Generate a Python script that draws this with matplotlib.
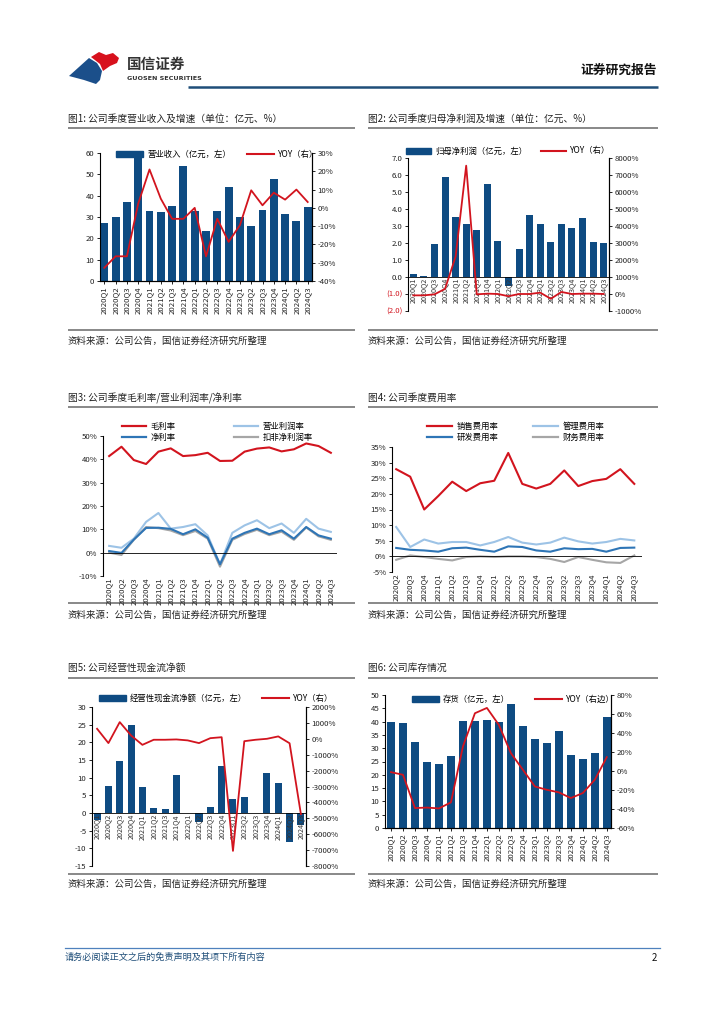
import matplotlib
matplotlib.use('Agg')
import matplotlib.pyplot as plt
import numpy as np
from matplotlib.patches import Polygon, Patch
from matplotlib.lines import Line2D

plt.rcParams['font.family'] = ['Noto Sans CJK SC', 'DejaVu Sans']
plt.rcParams['axes.unicode_minus'] = False

W, H = 724, 1024

# ---- data ----
quarters = ['2020Q1', '2020Q2', '2020Q3', '2020Q4', '2021Q1', '2021Q2', '2021Q3', '2021Q4',
            '2022Q1', '2022Q2', '2022Q3', '2022Q4', '2023Q1', '2023Q2', '2023Q3', '2023Q4',
            '2024Q1', '2024Q2', '2024Q3']
quarters_fee = quarters[1:]

revenue = [27.3, 29.8, 37.0, 57.8, 33.0, 32.2, 35.0, 54.0, 33.0, 23.3, 33.0, 44.0,
           29.8, 25.7, 33.2, 47.6, 31.2, 28.0, 34.5]
revenue_yoy = [-32.8, -26.5, -26.5, 2.3, 21.0, 5.0, -6.0, -6.0, 0.0, -26.5, -6.0, -18.6,
               -9.5, 9.6, 1.4, 8.3, 4.5, 10.0, 3.2]

net_profit = [0.15, 0.05, 1.95, 5.9, 3.55, 3.1, 2.75, 5.45, 2.1, -0.55, 1.65, 3.65,
              3.1, 2.05, 3.1, 2.9, 3.45, 2.05, 2.0]
net_profit_yoy = [-80, -80, -20, 300, 2200, 7550, -20, 20, 0, -130, 0, 0,
                  80, -280, 120, 0, 20, 20, 0]

gross_margin = [41.4, 45.4, 39.7, 38.0, 43.3, 44.7, 41.4, 41.8, 42.8, 39.3, 39.4, 43.3,
                44.6, 45.1, 43.4, 44.3, 46.8, 45.7, 42.8]
op_margin = [2.9, 2.1, 6.0, 13.2, 17.0, 10.3, 11.0, 12.2, 7.4, -5.0, 8.5, 11.7,
             13.9, 10.5, 12.5, 8.5, 14.5, 10.3, 8.9]
net_margin = [0.7, -0.1, 5.6, 10.6, 10.7, 10.2, 7.9, 10.0, 6.4, -5.0, 6.0, 8.5,
              10.3, 7.9, 9.6, 6.0, 11.0, 7.4, 6.0]
deducted_margin = [0.0, -1.0, 5.5, 11.0, 10.5, 9.5, 7.5, 9.3, 6.0, -6.0, 5.5, 8.0,
                   9.8, 7.5, 9.0, 5.5, 10.8, 7.0, 5.5]

selling_rate = [27.9, 25.5, 15.0, 19.3, 23.9, 20.9, 23.4, 24.2, 33.1, 23.2, 21.7, 23.2,
                27.5, 22.5, 24.1, 24.8, 27.9, 23.2]
admin_rate = [9.4, 3.0, 5.4, 4.1, 4.6, 4.6, 3.5, 4.6, 6.2, 4.4, 3.8, 4.4,
              6.0, 4.8, 4.1, 4.6, 5.6, 5.1]
rd_rate = [2.7, 2.1, 1.9, 1.5, 2.6, 2.8, 2.1, 1.5, 3.2, 3.0, 1.9, 1.5,
           2.6, 2.3, 2.4, 1.5, 2.7, 2.8]
finance_rate = [-1.1, 0.3, -0.2, -0.8, -1.3, -0.2, 0.0, -0.2, 0.0, 0.0, -0.2, -0.8,
                -1.8, -0.2, -1.1, -1.9, -2.1, 0.3]

op_cashflow = [-2.1, 7.6, 14.8, 24.8, 7.5, 1.5, 1.1, 10.8, -0.06, -2.5, 1.6, 13.3,
               4.0, 4.6, 0.05, 11.2, 8.4, -8.2, -3.5]
op_cashflow_yoy = [630, -270, 1050, 210, -380, -60, -60, -40, -100, -270, 40, 100,
                   -7050, -150, -60, 0, 150, -280, -4740]

inventory = [39.9, 39.5, 32.4, 24.9, 24.1, 27.0, 40.3, 40.3, 40.5, 39.8, 46.6, 38.4,
             33.5, 31.8, 36.4, 27.5, 25.9, 28.3, 41.6]
inventory_yoy = [-1.2, -4.0, -39.0, -38.5, -39.4, -33.0, 25.8, 60.8, 66.4, 48.5, 18.8, 1.3,
                 -16.3, -19.8, -22.5, -28.5, -23.2, -9.2, 14.6]

BAR = '#0E4B82'
RED = '#D2141E'
LBLUE = '#9DC3E6'
MBLUE = '#2E75B6'
GRAY = '#A6A6A6'
TXT = '#222222'

TICK_FS = 5.6
XLAB_FS = 5.2
LEG_FS = 6.0

fig = plt.figure(figsize=(W / 100, H / 100), dpi=100)

# overlay for page elements, pixel coordinates
ov = fig.add_axes([0, 0, 1, 1])
ov.set_xlim(0, W)
ov.set_ylim(H, 0)
ov.axis('off')

# logo
ov.add_patch(Polygon([(69, 76), (89, 58), (97, 63), (102, 71), (100, 80), (96, 84), (84, 80)],
                     closed=True, color='#1B4F8A', lw=0))
ov.add_patch(Polygon([(91, 57), (99, 52), (106, 55), (113, 53), (119, 58), (117, 63),
                      (110, 66), (103, 71), (100, 64)], closed=True, color='#D7111D', lw=0))
ov.text(127, 64, '国信证券', fontsize=10.5, fontweight='bold', color='#333333', va='center', ha='left')
ov.text(127, 78, 'GUOSEN SECURITIES', fontsize=4.6, fontweight='bold', color='#333333',
        va='center', ha='left', family='DejaVu Sans')
ov.text(657, 70, '证券研究报告', fontsize=9.2, fontweight='bold', color='#111111', va='center', ha='right')
ov.plot([188, 658], [87, 87], color='#1F4E79', lw=1.8, solid_capstyle='butt')

# panel frames: titles, separator lines, sources
panels = [
    (68, 355, 119, 128, 330, 341, '图1: 公司季度营业收入及增速（单位：亿元、%）'),
    (368, 658, 119, 128, 330, 341, '图2: 公司季度归母净利润及增速（单位：亿元、%）'),
    (68, 355, 398, 407, 603, 615, '图3: 公司季度毛利率/营业利润率/净利率'),
    (368, 658, 398, 407, 603, 615, '图4: 公司季度费用率'),
    (68, 355, 668, 678, 874, 884, '图5: 公司经营性现金流净额'),
    (368, 658, 668, 678, 874, 884, '图6: 公司库存情况'),
]
for x0, x1, ty, ly, sy, sty, title in panels:
    ov.text(x0, ty, title, fontsize=7, color=TXT, va='center', ha='left')
    ov.plot([x0, x1], [ly, ly], color='#7F7F7F', lw=1.3, solid_capstyle='butt')
    ov.plot([x0, x1], [sy, sy], color='#7F7F7F', lw=1.3, solid_capstyle='butt')
    ov.text(x0, sty, '资料来源：公司公告，国信证券经济研究所整理', fontsize=6.8, color=TXT,
            va='center', ha='left')

# footer
ov.plot([65, 660], [948, 948], color='#4F81BD', lw=0.9)
ov.text(65, 957, '请务必阅读正文之后的免责声明及其项下所有内容', fontsize=6.6, color='#1F4E79',
        va='center', ha='left', style='italic')
ov.text(657, 958, '2', fontsize=7, color='#111111', va='center', ha='right')


def px_axes(l, t, r, b):
    return fig.add_axes([l / W, 1 - b / H, (r - l) / W, (b - t) / H])


def style_axis(ax, right=False):
    ax.spines['top'].set_visible(False)
    ax.spines['right'].set_visible(right)
    for s in ax.spines.values():
        s.set_linewidth(0.8)
        s.set_color('black')
    ax.tick_params(axis='both', labelsize=TICK_FS, length=2.5, width=0.7, pad=1.5, colors='#222222')
    ax.patch.set_alpha(0)


def pct(vals):
    return ['%d%%' % v for v in vals]


def legend_at(ax, handles, labels, x, y, ncol, handlelength, colspacing):
    ax.legend(handles, labels, ncol=ncol, loc='center left',
              bbox_to_anchor=(x / W, 1 - y / H), bbox_transform=fig.transFigure,
              frameon=False, fontsize=LEG_FS, handlelength=handlelength,
              handletextpad=0.5, columnspacing=colspacing, borderpad=0, labelspacing=0.15)


x = np.arange(len(quarters))
xf = np.arange(len(quarters_fee))

# ---- chart 1: revenue ----
ax1 = px_axes(100, 153, 312, 281)
ax1.bar(x, revenue, width=0.7, color=BAR)
ax1.set_xlim(-0.38, 18.38)
ax1.set_ylim(0, 60)
ax1.set_yticks(np.arange(0, 61, 10))
ax1.set_xticks(x)
ax1.set_xticklabels(quarters, rotation=90, fontsize=XLAB_FS)
ax1.tick_params(axis='x', length=0, pad=1)
style_axis(ax1, right=True)
ax1r = ax1.twinx()
ax1r.plot(x, revenue_yoy, color=RED, lw=1.3, solid_joinstyle='round')
ax1r.set_ylim(-40, 30)
ax1r.set_yticks(np.arange(-40, 31, 10))
ax1r.set_yticklabels(pct(np.arange(-40, 31, 10)))
style_axis(ax1r, right=True)
ax1r.spines['left'].set_visible(False)
legend_at(ax1r, [Patch(color=BAR), Line2D([], [], color=RED, lw=1.5)],
          ['营业收入（亿元，左）', 'YOY（右）'], 112, 154, 2, 3.2, 2.0)

# ---- chart 2: net profit ----
ax2 = px_axes(408, 158, 609, 311)
ax2.bar(x, net_profit, width=0.66, color=BAR)
ax2.axhline(0, color='black', lw=0.6)
ax2.set_xlim(-0.5, 18.5)
ax2.set_ylim(-2, 7)
yt2 = np.arange(-2, 8, 1)
ax2.set_yticks(yt2)
ax2.set_yticklabels(['(%.1f)' % -v if v < 0 else '%.1f' % v for v in yt2])
style_axis(ax2, right=True)
ax2.spines['bottom'].set_visible(False)
ax2.set_xticks([])
for lbl, v in zip(ax2.get_yticklabels(), yt2):
    if v < 0:
        lbl.set_color(RED)
for i, q in enumerate(quarters):
    ax2.text(i, -0.05, q, rotation=90, fontsize=XLAB_FS, ha='center', va='top', color='#333333')
ax2r = ax2.twinx()
ax2r.plot(x, net_profit_yoy, color=RED, lw=1.3, solid_joinstyle='round')
ax2r.set_ylim(-1000, 8000)
yt2r = np.arange(-1000, 8001, 1000)
ax2r.set_yticks(yt2r)
ax2r.set_yticklabels(pct(yt2r))
style_axis(ax2r, right=True)
ax2r.spines['left'].set_visible(False)
ax2r.spines['bottom'].set_visible(False)
legend_at(ax2r, [Patch(color=BAR), Line2D([], [], color=RED, lw=1.5)],
          ['归母净利润（亿元，左）', 'YOY（右）'], 402, 151, 2, 3.0, 1.6)

# ---- chart 3: margins ----
ax3 = px_axes(103, 436, 337, 576)
ax3.plot(x, gross_margin, color=RED, lw=1.5, solid_joinstyle='round')
ax3.plot(x, op_margin, color=LBLUE, lw=1.5, solid_joinstyle='round')
ax3.plot(x, deducted_margin, color=GRAY, lw=1.5, solid_joinstyle='round')
ax3.plot(x, net_margin, color=MBLUE, lw=1.5, solid_joinstyle='round')
ax3.axhline(0, color='black', lw=0.6)
ax3.set_xlim(-0.5, 18.5)
ax3.set_ylim(-10, 50)
yt3 = np.arange(-10, 51, 10)
ax3.set_yticks(yt3)
ax3.set_yticklabels(pct(yt3))
ax3.set_xticks(x)
ax3.set_xticklabels(quarters, rotation=90, fontsize=XLAB_FS)
style_axis(ax3)
ax3.spines['bottom'].set_visible(False)
ax3.tick_params(axis='x', length=0, pad=1)
legend_at(ax3, [Line2D([], [], color=RED, lw=1.6), Line2D([], [], color=MBLUE, lw=1.6),
                Line2D([], [], color=LBLUE, lw=1.6), Line2D([], [], color=GRAY, lw=1.6)],
          ['毛利率', '净利率', '营业利润率', '扣非净利润率'], 118, 432, 2, 2.9, 7.0)

# ---- chart 4: expense ratios ----
ax4 = px_axes(392, 447, 642, 572)
ax4.plot(xf, selling_rate, color=RED, lw=1.5, solid_joinstyle='round')
ax4.plot(xf, admin_rate, color=LBLUE, lw=1.5, solid_joinstyle='round')
ax4.plot(xf, finance_rate, color=GRAY, lw=1.5, solid_joinstyle='round')
ax4.plot(xf, rd_rate, color=MBLUE, lw=1.5, solid_joinstyle='round')
ax4.axhline(0, color='black', lw=0.6)
ax4.set_xlim(-0.3, 17.55)
ax4.set_ylim(-5, 35)
yt4 = np.arange(-5, 36, 5)
ax4.set_yticks(yt4)
ax4.set_yticklabels(pct(yt4))
ax4.set_xticks(xf)
ax4.set_xticklabels(quarters_fee, rotation=90, fontsize=XLAB_FS)
style_axis(ax4)
ax4.spines['bottom'].set_visible(False)
ax4.tick_params(axis='x', length=0, pad=1)
legend_at(ax4, [Line2D([], [], color=RED, lw=1.6), Line2D([], [], color=MBLUE, lw=1.6),
                Line2D([], [], color=LBLUE, lw=1.6), Line2D([], [], color=GRAY, lw=1.6)],
          ['销售费用率', '研发费用率', '管理费用率', '财务费用率'], 423, 432, 2, 3.0, 4.2)

# ---- chart 5: operating cash flow ----
ax5 = px_axes(92, 707, 306, 866)
ax5.bar(x, op_cashflow, width=0.62, color=BAR)
ax5.axhline(0, color='black', lw=0.6)
ax5.set_xlim(-0.45, 18.45)
ax5.set_ylim(-15, 30)
ax5.set_yticks(np.arange(-15, 31, 5))
style_axis(ax5, right=True)
ax5.spines['bottom'].set_visible(False)
ax5.set_xticks([])
for i, q in enumerate(quarters):
    ax5.text(i, -0.3, q, rotation=90, fontsize=XLAB_FS, ha='center', va='top', color='#333333')
ax5r = ax5.twinx()
ax5r.plot(x, op_cashflow_yoy, color=RED, lw=1.3, solid_joinstyle='round')
ax5r.set_ylim(-8000, 2000)
yt5r = np.arange(-8000, 2001, 1000)
ax5r.set_yticks(yt5r)
ax5r.set_yticklabels(pct(yt5r))
style_axis(ax5r, right=True)
ax5r.spines['left'].set_visible(False)
ax5r.spines['bottom'].set_visible(False)
legend_at(ax5r, [Patch(color=BAR), Line2D([], [], color=RED, lw=1.5)],
          ['经营性现金流净额（亿元，左）', 'YOY（右）'], 95, 698, 2, 3.2, 1.8)

# ---- chart 6: inventory ----
ax6 = px_axes(385, 695, 611, 828)
ax6.bar(x, inventory, width=0.62, color=BAR)
ax6.set_xlim(-0.5, 18.35)
ax6.set_ylim(0, 50)
ax6.set_yticks(np.arange(0, 51, 5))
ax6.set_xticks(x)
ax6.set_xticklabels(quarters, rotation=90, fontsize=XLAB_FS)
ax6.tick_params(axis='x', length=0, pad=1)
style_axis(ax6, right=True)
ax6r = ax6.twinx()
ax6r.plot(x, inventory_yoy, color=RED, lw=1.3, solid_joinstyle='round')
ax6r.set_ylim(-60, 80)
yt6r = np.arange(-60, 81, 20)
ax6r.set_yticks(yt6r)
ax6r.set_yticklabels(pct(yt6r))
style_axis(ax6r, right=True)
ax6r.spines['left'].set_visible(False)
legend_at(ax6r, [Patch(color=BAR), Line2D([], [], color=RED, lw=1.5)],
          ['存货（亿元，左）', 'YOY（右边）'], 408, 699, 2, 3.2, 3.0)

fig.savefig('out.png', dpi=100)
